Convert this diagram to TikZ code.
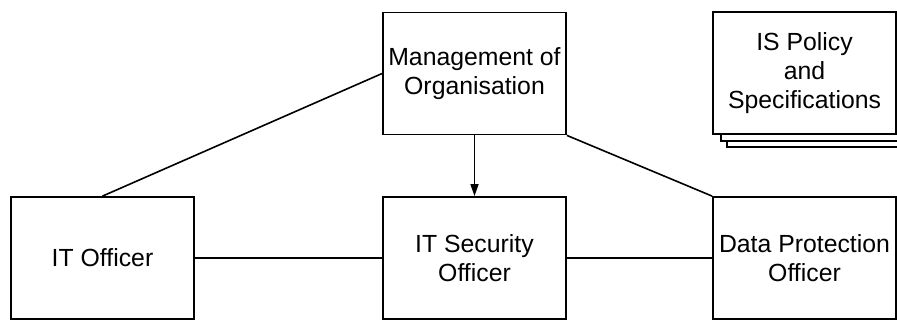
\documentclass[tikz,border=0pt]{standalone}
\usepackage{fontspec}
\setmainfont{Liberation Sans}
\usetikzlibrary{arrows.meta}
\begin{document}
\begin{tikzpicture}[x=1pt,y=-1pt,
  box/.style={draw=black,line width=1.8pt,fill=white,rectangle,minimum width=183pt,minimum height=122pt,inner sep=0pt,align=center,font=\fontsize{24.8}{29}\selectfont},
  conn/.style={line width=1.6pt}]
\useasboundingbox (0,0) rectangle (897,322);
\begin{scope}
\clip (0,0) rectangle (897,322);
\node[box] (back2) at (818.5,86) {};
\node[box] (back1) at (812.5,80) {};
\node[box] (policy) at (804.5,73) {IS Policy\\and\\Specifications};
\end{scope}
\node[box] (mgmt) at (474.5,73.5) {Management of\\Organisation};
\node[box] (ito) at (102.5,258) {IT Officer};
\node[box] (itsec) at (474.5,258) {IT Security\\Officer};
\node[box] (dpo) at (804.5,258) {Data Protection\\Officer};
\draw[conn] (ito.north) -- (mgmt.west);
\draw[conn] (mgmt.south east) -- (dpo.north west);
\draw[conn,-{Triangle[length=12pt,width=8pt]}] (mgmt.south) -- (itsec.north);
\draw[conn] (ito.east) -- (itsec.west);
\draw[conn] (itsec.east) -- (dpo.west);
\end{tikzpicture}
\end{document}
